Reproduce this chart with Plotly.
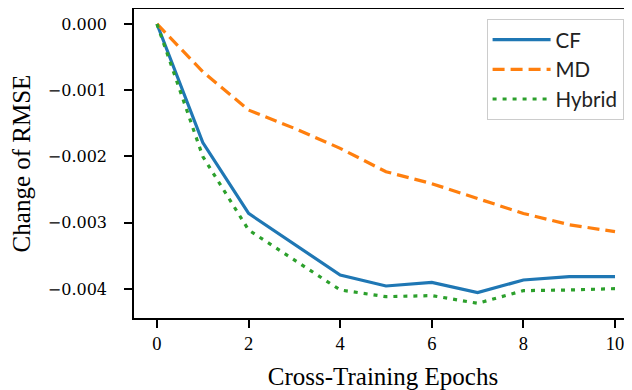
import plotly.graph_objects as go

epochs = [0, 1, 2, 3, 4, 5, 6, 7, 8, 9, 10]
cf = [0.0, -0.00179, -0.00286, -0.00332, -0.00379, -0.003955, -0.00390, -0.004055, -0.003864, -0.003814, -0.003814]
md = [0.0, -0.00072, -0.00130, -0.001575, -0.001877, -0.00223, -0.00241, -0.00264, -0.00286, -0.00303, -0.003135]
hybrid = [0.0, -0.00200, -0.00311, -0.00356, -0.004015, -0.004116, -0.00410, -0.004216, -0.004025, -0.004015, -0.003995]

x_ticks = [0, 2, 4, 6, 8, 10]
x_ticktext = ["0", "2", "4", "6", "8", "10"]
y_ticks = [0.0, -0.001, -0.002, -0.003, -0.004]
y_ticktext = ["0.000", "\u22120.001", "\u22120.002", "\u22120.003", "\u22120.004"]

serif = "Liberation Serif, serif"
mono_serif = "DejaVu Serif, serif"
sans = "Lato, Open Sans, sans-serif"

fig = go.Figure()
fig.add_trace(go.Scatter(x=epochs, y=cf, name="CF", mode="lines",
                         line=dict(color="#1f77b4", width=3.2)))
fig.add_trace(go.Scatter(x=epochs, y=md, name="MD", mode="lines",
                         line=dict(color="#ff7f0e", width=3.2, dash="12px,6px")))
fig.add_trace(go.Scatter(x=epochs, y=hybrid, name="Hybrid", mode="lines",
                         line=dict(color="#2ca02c", width=3.2, dash="4px,6px")))

fig.update_layout(
    width=632, height=390,
    margin=dict(l=126, r=8, t=1, b=80),
    plot_bgcolor="white", paper_bgcolor="white",
    font=dict(family=serif, color="black", size=18),
    legend=dict(x=0.708, y=0.968, xanchor="left", yanchor="top",
                bgcolor="white", bordercolor="#cccccc", borderwidth=1,
                itemwidth=58,
                font=dict(family=sans, size=20.5, color="#222222")),
    xaxis=dict(range=[-0.502, 10.371], tickvals=x_ticks, ticktext=x_ticktext,
               showgrid=False, zeroline=False, showline=True, linecolor="black",
               linewidth=1.5, mirror=True, ticks="outside", ticklen=8, tickwidth=1.5,
               tickcolor="black", tickfont=dict(family=serif, size=18.5),
               automargin=False,
               title=dict(text="Cross-Training Epochs", font=dict(family=serif, size=25), standoff=15)),
    yaxis=dict(range=[-0.004438, 0.000226], tickvals=y_ticks, ticktext=y_ticktext,
               showgrid=False, zeroline=False, showline=True, linecolor="black",
               linewidth=1.5, ticks="outside", ticklen=8, tickwidth=1.5,
               tickcolor="black", tickfont=dict(family=mono_serif, size=16),
               ticklabelstandoff=14, automargin=False,
               title=dict(text="Change of RMSE", font=dict(family=serif, size=25), standoff=10)),
)

fig.write_html("out.html")
